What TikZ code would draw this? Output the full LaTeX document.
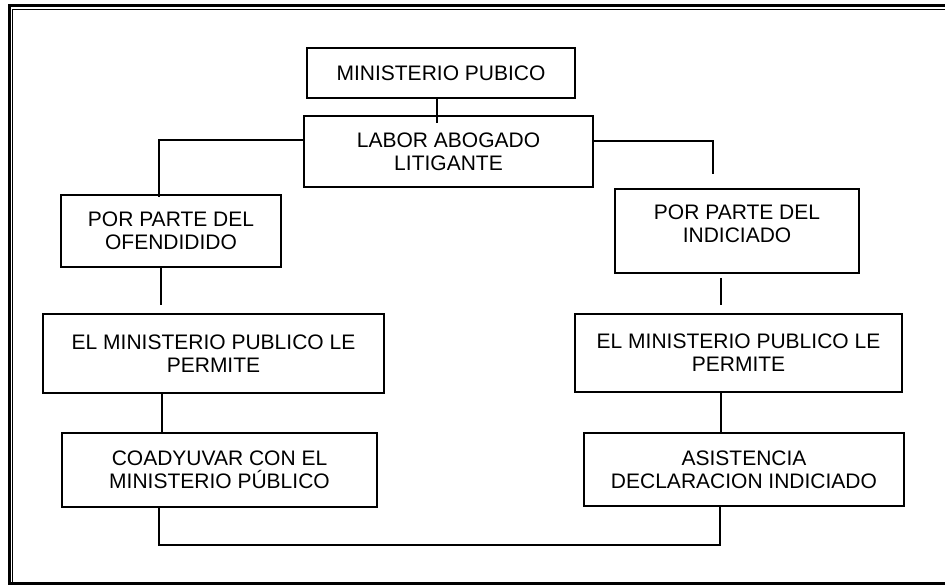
\documentclass[tikz,border=0pt]{standalone}
\usepackage{fontspec}
\setmainfont{Liberation Sans}
\begin{document}
\begin{tikzpicture}[x=1pt,y=-1pt]
\useasboundingbox (0,0) rectangle (945,585);
\tikzset{
  box/.style={draw, line width=1.8pt, inner sep=0pt, align=center,
    font=\fontsize{21}{23.3}\selectfont},
  txt/.style={inner sep=0pt, align=center, font=\fontsize{21}{23.3}\selectfont},
  conn/.style={line width=1.6pt},
  outerframe/.style={line width=3pt},
  innerframe/.style={line width=1.3pt}
}
% frame
\draw[outerframe] (945,6) -- (9,6) -- (9,583.5) -- (945,583.5);
\draw[innerframe] (945,9.5) -- (12.6,9.5) -- (12.6,582);

% boxes
\node[box, minimum width=268pt, minimum height=50pt] (a) at (441,73) {MINISTERIO PUBICO};
\node[box, minimum width=289pt, minimum height=71pt] (b) at (448.5,151.5) {LABOR ABOGADO\\LITIGANTE};
\node[box, minimum width=220pt, minimum height=72pt] (c) at (171,231) {POR PARTE DEL\\OFENDIDIDO};
\node[box, minimum width=244pt, minimum height=84pt] (d) at (737,231) {};
\node[txt] (dt) at ([yshift=7pt]d.center) {POR PARTE DEL\\INDICIADO};
\node[box, minimum width=341pt, minimum height=79pt] (e) at (213.5,353.5) {EL MINISTERIO PUBLICO LE\\PERMITE};
\node[box, minimum width=327pt, minimum height=78pt] (f) at (738.5,353) {EL MINISTERIO PUBLICO LE\\PERMITE};
\node[box, minimum width=315pt, minimum height=74pt] (g) at (219.5,470) {COADYUVAR CON EL\\MINISTERIO PÚBLICO};
\node[box, minimum width=320pt, minimum height=73pt] (h) at (744,469.5) {ASISTENCIA\\DECLARACION INDICIADO};

% connectors
\coordinate (ab) at (437,123);
\draw[conn] (a.south -| ab) -- (ab);
\draw[conn] (b.west |- 0,140) -- (159,140) -- (159,197);
\coordinate (rt) at (713,174);
\draw[conn] (b.east |- 0,141) -- (rt |- 0,141) -- (rt);
\coordinate (ce) at (161,305);
\draw[conn] (c.south -| ce) -- (ce);
\coordinate (eg) at (162,433);
\draw[conn] (e.south -| eg) -- (g.north -| eg);
\coordinate (df) at (721,305);
\draw[conn] (d.south -| df) ++(0,4) -- (df);
\coordinate (fh) at (721,432);
\draw[conn] (f.south -| fh) -- (fh);
\coordinate (bl) at (159,545);
\coordinate (br) at (720,545);
\draw[conn] (g.south -| bl) -- (bl) -- (br) -- (h.south -| br);
\end{tikzpicture}
\end{document}
